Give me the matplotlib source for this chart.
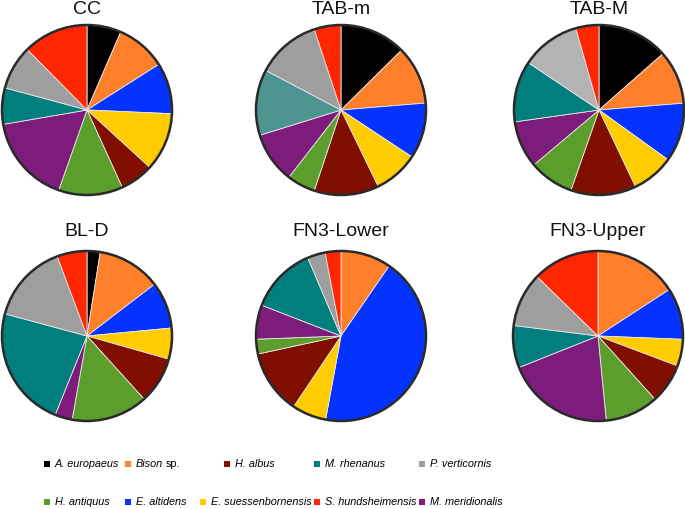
import matplotlib
matplotlib.use("Agg")
import matplotlib.pyplot as plt
from matplotlib.patches import Circle

plt.rcParams['font.family'] = ['Liberation Sans', 'DejaVu Sans']

species = ["A. europaeus", "Bison sp.", "E. altidens", "E. suessenbornensis", "H. albus",
           "H. antiquus", "M. meridionalis", "M. rhenanus", "P. verticornis", "S. hundsheimensis"]
colors = ["#000000", "#FF7F2A", "#0433FF", "#FFCC00", "#800F00",
          "#5C9E2C", "#7E1C7B", "#017F7F", "#9E9E9E", "#FF2600"]

sites = ["CC", "TAB-m", "TAB-M", "BL-D", "FN3-Lower", "FN3-Upper"]
cc        = [6.5, 9.5, 9.7, 11.1, 6.4, 12.2, 16.9, 6.9, 8.4, 12.4]
tab_m     = [12.6, 11.1, 10.6, 8.5, 12.3, 5.4, 9.7, 12.5, 12.2, 5.1]
tab_M     = [13.5, 10.2, 11.2, 8.0, 12.4, 8.5, 8.9, 11.6, 11.2, 4.4]
bl_d      = [2.5, 12.1, 8.9, 5.9, 8.9, 14.5, 3.3, 23.1, 15.1, 5.7]
fn3_lower = [0.0, 9.6, 43.3, 6.5, 12.2, 2.8, 6.5, 12.7, 3.4, 3.0]
fn3_upper = [0.0, 15.8, 9.8, 5.1, 7.6, 10.1, 20.5, 8.0, 10.3, 12.7]
values = [cc, tab_m, tab_M, bl_d, fn3_lower, fn3_upper]

# per-pie colour tweaks seen in the reference
overrides = {"TAB-m": {7: "#4E9592"}, "TAB-M": {8: "#B3B3B3"}}

W, H = 685, 509
fig = plt.figure(figsize=(W / 100, H / 100), dpi=100)

centers = [(87, 110), (341, 110), (599, 110), (87, 336), (341, 336), (598, 336)]
title_y = [9, 9, 9, 232, 232, 232]
R = 85.0
half = 95.0

for site, vals, (cx, cy), ty in zip(sites, values, centers, title_y):
    ax = fig.add_axes([(cx - half) / W, 1 - (cy + half) / H, 2 * half / W, 2 * half / H])
    cols = list(colors)
    for k, c in overrides.get(site, {}).items():
        cols[k] = c
    keep = [i for i, v in enumerate(vals) if v > 0]
    ax.pie([vals[i] for i in keep], colors=[cols[i] for i in keep], startangle=90,
           counterclock=False, radius=1.0,
           wedgeprops=dict(edgecolor="#E8E8E8", linewidth=0.6))
    ax.add_patch(Circle((0, 0), 1.0, fill=False, edgecolor="#2A2A2A", linewidth=1.8, zorder=5))
    lim = half / R
    ax.set_xlim(-lim, lim)
    ax.set_ylim(-lim, lim)
    ax.set_aspect("equal")
    ax.axis("off")
    fig.text(cx / W, 1 - ty / H, site, ha="center", va="center", fontsize=14, color="#111111")

leg_rows = [
    [("A. europaeus", 0, 47), ("Bison sp.", 1, 128), ("H. albus", 4, 227),
     ("M. rhenanus", 7, 317), ("P. verticornis", 8, 422)],
    [("H. antiquus", 5, 47), ("E. altidens", 2, 128), ("E. suessenbornensis", 3, 203),
     ("S. hundsheimensis", 9, 317), ("M. meridionalis", 6, 422)],
]
row_y = [464, 502]
fs = 7.8
lax = fig.add_axes([0, 0, 1, 1])
lax.set_xlim(0, W)
lax.set_ylim(H, 0)
lax.axis("off")
fig.canvas.draw()
renderer = fig.canvas.get_renderer()
for row, y in zip(leg_rows, row_y):
    for label, ci, x in row:
        lax.scatter([x], [y], marker="s", s=24, color=colors[ci], linewidths=0)
        if label == "Bison sp.":
            t = lax.text(x + 8, y, "Bison", style="italic", fontsize=fs, va="center", ha="left")
            bb = t.get_window_extent(renderer=renderer)
            lax.text(bb.x1 + 2.5, y, "sp.", fontsize=fs, va="center", ha="left")
        else:
            lax.text(x + 8, y, label, style="italic", fontsize=fs, va="center", ha="left")

fig.savefig("out.png", dpi=100)
